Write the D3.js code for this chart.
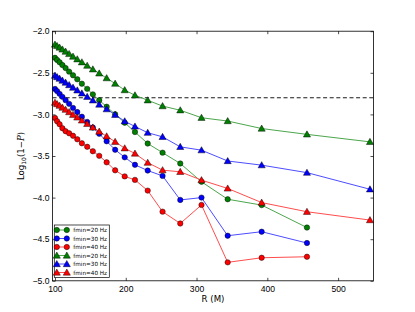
<!DOCTYPE html>
<html lang="en">
<head>
<meta charset="UTF-8">
<title>Log10(1-P) vs R</title>
<script src="https://d3js.org/d3.v7.min.js"></script>
<style>
    body { margin: 0; background: #ffffff; }
    svg { display: block; font-family: 'DejaVu Sans', sans-serif; }
    .axis text { font-size: 8.6px; fill: #000; }
    .axis path, .axis line { stroke: #000; stroke-width: 0.7; }
</style>
</head>
<body>
<div id="chart"></div>
<script>
    // R values (M) of the points
    const rCircle = [100, 103, 106.5, 110.5, 115, 120, 125.5, 131.5, 138, 145.5, 153.5, 162.5,
        173, 185, 198.5, 213, 231, 252, 277, 307, 344, 392, 456];
    const rTriangle = rCircle.concat([545]);

    // circles
    const circle20 = [-2.32, -2.345, -2.373, -2.407, -2.443, -2.486, -2.53, -2.578, -2.631, -2.693,
        -2.759, -2.83, -2.908, -2.999, -3.10, -3.212, -3.35, -3.46, -3.59, -3.81, -4.02, -4.09, -4.36];
    const circle30 = [-2.694, -2.72, -2.753, -2.789, -2.829, -2.873, -2.922, -2.972, -3.028, -3.09,
        -3.158, -3.233, -3.323, -3.425, -3.516, -3.606, -3.675, -3.739, -4.028, -4.0, -4.458, -4.41, -4.546];
    const circle40 = [-3.043, -3.082, -3.118, -3.166, -3.202, -3.227, -3.257, -3.299, -3.347, -3.389,
        -3.443, -3.498, -3.576, -3.672, -3.745, -3.787, -3.916, -4.169, -4.311, -4.088, -4.778, -4.723, -4.711];
    // triangles
    const tri20 = [-2.16, -2.177, -2.196, -2.219, -2.245, -2.273, -2.305, -2.337, -2.373, -2.414,
        -2.458, -2.507, -2.564, -2.63, -2.708, -2.77, -2.83, -2.90, -2.95, -3.04, -3.08, -3.17, -3.24, -3.33];
    const tri30 = [-2.534, -2.551, -2.57, -2.593, -2.618, -2.647, -2.678, -2.711, -2.747, -2.788,
        -2.831, -2.881, -2.937, -3.004, -3.082, -3.145, -3.22, -3.27, -3.39, -3.43, -3.56, -3.61, -3.70, -3.90];
    const tri40 = [-2.859, -2.876, -2.895, -2.918, -2.943, -2.972, -3.004, -3.036, -3.072, -3.113,
        -3.157, -3.206, -3.263, -3.329, -3.407, -3.47, -3.58, -3.67, -3.69, -3.79, -3.89, -4.06, -4.17, -4.27];

    const threshold = -2.8;
    const xTicks = [100, 200, 300, 400, 500];
    const yTicks = [-5.0, -4.5, -4.0, -3.5, -3.0, -2.5, -2.0];

    const series = [
        { label: "fmin=20 Hz", r: rCircle, v: circle20, color: "#008000", line: "#4da64d", shape: "circle" },
        { label: "fmin=30 Hz", r: rCircle, v: circle30, color: "#0000ff", line: "#4d4dff", shape: "circle" },
        { label: "fmin=40 Hz", r: rCircle, v: circle40, color: "#ff0000", line: "#ff4d4d", shape: "circle" },
        { label: "fmin=20 Hz", r: rTriangle, v: tri20, color: "#008000", line: "#4da64d", shape: "triangle" },
        { label: "fmin=30 Hz", r: rTriangle, v: tri30, color: "#0000ff", line: "#4d4dff", shape: "triangle" },
        { label: "fmin=40 Hz", r: rTriangle, v: tri40, color: "#ff0000", line: "#ff4d4d", shape: "triangle" }
    ];

    const W = 415, H = 312;
    const m = { left: 52.5, right: 373.5, top: 31.2, bottom: 280.8 };

    const svg = d3.select("#chart").append("svg")
        .attr("width", W).attr("height", H);

    const x = d3.scaleLinear().domain([96.5, 550]).range([m.left, m.right]);
    const y = d3.scaleLinear().domain([-5, -2]).range([m.bottom, m.top]);

    const fmt = d => d3.format(".1f")(d).replace("-", "\u2212");

    // axes, ticks inward on all four sides
    svg.append("g").attr("class", "axis")
        .attr("transform", `translate(0,${m.bottom})`)
        .call(d3.axisBottom(x).tickValues(xTicks).tickSize(-3).tickPadding(5).tickSizeOuter(0));
    svg.append("g").attr("class", "axis")
        .attr("transform", `translate(0,${m.top})`)
        .call(d3.axisTop(x).tickValues(xTicks).tickSize(-3).tickFormat("").tickSizeOuter(0));
    svg.append("g").attr("class", "axis")
        .attr("transform", `translate(${m.left},0)`)
        .call(d3.axisLeft(y).tickValues(yTicks).tickSize(-3).tickPadding(3).tickFormat(fmt).tickSizeOuter(0));
    svg.append("g").attr("class", "axis")
        .attr("transform", `translate(${m.right},0)`)
        .call(d3.axisRight(y).tickValues(yTicks).tickSize(-3).tickFormat("").tickSizeOuter(0));
    svg.selectAll(".axis .domain").remove();

    const plot = svg.append("g");

    // dashed reference line
    plot.append("line")
        .attr("x1", m.left).attr("x2", m.right)
        .attr("y1", y(threshold)).attr("y2", y(threshold))
        .attr("stroke", "#000").attr("stroke-width", 0.9)
        .attr("stroke-dasharray", "4,2.6");

    const line = d3.line().x(d => x(d[0])).y(d => y(d[1]));
    const tri = d3.symbol().type(d3.symbolTriangle).size(22);

    function marker(g, s, cx, cy) {
        if (s.shape === "circle") {
            g.append("circle").attr("cx", cx).attr("cy", cy).attr("r", 2.7)
                .attr("fill", s.color).attr("stroke", "#000").attr("stroke-width", 0.45);
        } else {
            g.append("path").attr("d", tri).attr("transform", `translate(${cx},${cy + 0.6})`)
                .attr("fill", s.color).attr("stroke", "#000").attr("stroke-width", 0.45);
        }
    }

    series.forEach(s => {
        const pts = s.v.map((v, i) => [s.r[i], v]);
        plot.append("path").datum(pts)
            .attr("d", line)
            .attr("fill", "none").attr("stroke", s.line).attr("stroke-width", 1);
        const g = plot.append("g");
        pts.forEach(p => marker(g, s, x(p[0]), y(p[1])));
    });

    // frame
    svg.append("rect")
        .attr("x", m.left).attr("y", m.top)
        .attr("width", m.right - m.left).attr("height", m.bottom - m.top)
        .attr("fill", "none").attr("stroke", "#000").attr("stroke-width", 0.8);

    // legend
    const lg = svg.append("g");
    const lx = 54.3, ly = 225, lw = 55, rowH = 8.5;
    lg.append("rect").attr("x", lx).attr("y", ly).attr("width", lw).attr("height", 52.5)
        .attr("fill", "#fff").attr("stroke", "#000").attr("stroke-width", 0.7);
    series.forEach((s, i) => {
        const cy = ly + 5 + i * rowH;
        lg.append("line").attr("x1", lx + 2.5).attr("x2", lx + 12.5)
            .attr("y1", cy).attr("y2", cy).attr("stroke", s.line).attr("stroke-width", 1);
        marker(lg, s, lx + 2.5, cy);
        marker(lg, s, lx + 12.5, cy);
        lg.append("text").attr("x", lx + 19).attr("y", cy + 2)
            .attr("font-size", 5.7).text(s.label);
    });

    // axis labels
    svg.append("text")
        .attr("x", (m.left + m.right) / 2).attr("y", 302)
        .attr("text-anchor", "middle").attr("font-size", 8.6)
        .text("R (M)");

    const yl = svg.append("text")
        .attr("transform", "translate(24,156) rotate(-90)")
        .attr("text-anchor", "middle").attr("font-size", 8.6);
    yl.append("tspan").text("Log");
    yl.append("tspan").attr("font-size", 6).attr("dy", 2).text("10");
    yl.append("tspan").attr("dy", -2).text("(1\u2212");
    yl.append("tspan").attr("font-style", "italic").attr("font-family", "'DejaVu Serif', serif").text("P");
    yl.append("tspan").text(")");
</script>
</body>
</html>
